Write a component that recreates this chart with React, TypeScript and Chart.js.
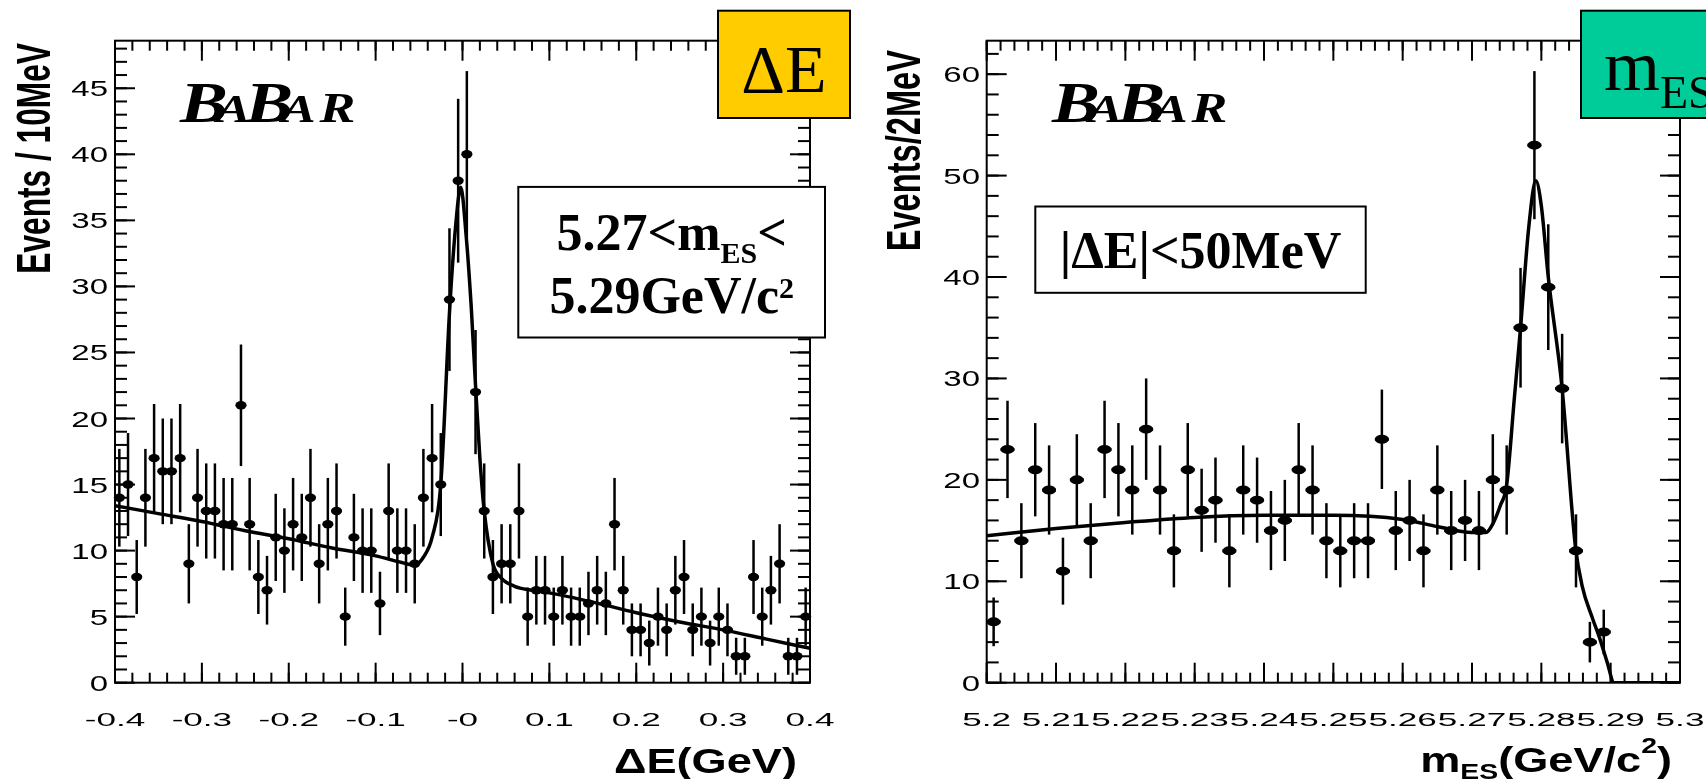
import React, { useEffect, useRef } from "react";
import { Chart, registerables } from "chart.js";
Chart.register(...registerables);

const PAGE_W = 1706;
const PAGE_H = 779;
const SERIF = '"Liberation Serif", "Times New Roman", serif';
const SANS = '"Liberation Sans", Arial, sans-serif';

// ---------------- Left panel: Delta E ----------------
const DE_BIN_CENTERS = [
  -0.395, -0.385, -0.375, -0.365, -0.355, -0.345, -0.335, -0.325, -0.315, -0.305,
  -0.295, -0.285, -0.275, -0.265, -0.255, -0.245, -0.235, -0.225, -0.215, -0.205,
  -0.195, -0.185, -0.175, -0.165, -0.155, -0.145, -0.135, -0.125, -0.115, -0.105,
  -0.095, -0.085, -0.075, -0.065, -0.055, -0.045, -0.035, -0.025, -0.015, -0.005,
  0.005, 0.015, 0.025, 0.035, 0.045, 0.055, 0.065, 0.075, 0.085, 0.095,
  0.105, 0.115, 0.125, 0.135, 0.145, 0.155, 0.165, 0.175, 0.185, 0.195,
  0.205, 0.215, 0.225, 0.235, 0.245, 0.255, 0.265, 0.275, 0.285, 0.295,
  0.305, 0.315, 0.325, 0.335, 0.345, 0.355, 0.365, 0.375, 0.385, 0.395,
];
const DE_COUNTS = [
  14, 15, 8, 14, 17, 16, 16, 17, 9, 14,
  13, 13, 12, 12, 21, 12, 8, 7, 11, 10,
  12, 11, 14, 9, 12, 13, 5, 11, 10, 10,
  6, 13, 10, 10, 9, 14, 17, 15, 29, 38,
  40, 22, 13, 8, 9, 9, 13, 5, 7, 7,
  5, 7, 5, 5, 6, 7, 6, 12, 7, 4,
  4, 3, 5, 4, 7, 8, 4, 5, 3, 5,
  4, 2, 2, 8, 5, 7, 9, 2, 2, 5,
];
const DE_ERRORS = [
  3.7, 3.9, 2.8, 3.7, 4.1, 4.0, 4.0, 4.1, 3.0, 3.7,
  3.6, 3.6, 3.5, 3.5, 4.6, 3.5, 2.8, 2.6, 3.3, 3.2,
  3.5, 3.3, 3.7, 3.0, 3.5, 3.6, 2.2, 3.3, 3.2, 3.2,
  2.4, 3.6, 3.2, 3.2, 3.0, 3.7, 4.1, 3.9, 5.4, 6.2,
  6.3, 4.7, 3.6, 2.8, 3.0, 3.0, 3.6, 2.2, 2.6, 2.6,
  2.2, 2.6, 2.2, 2.2, 2.4, 2.6, 2.4, 3.5, 2.6, 2.0,
  2.0, 1.7, 2.2, 2.0, 2.6, 2.8, 2.0, 2.2, 1.7, 2.2,
  2.0, 1.4, 1.4, 2.8, 2.2, 2.6, 3.0, 1.4, 1.4, 2.2,
];
const DE_FIT_X = [
  -0.4, -0.35, -0.3, -0.25, -0.2, -0.15, -0.1, -0.07, -0.055, -0.045,
  -0.035, -0.025, -0.015, -0.008, -0.002, 0.004, 0.01, 0.015, 0.02, 0.025,
  0.035, 0.045, 0.06, 0.08, 0.1, 0.15, 0.2, 0.25, 0.3, 0.35, 0.4,
];
const DE_FIT_Y = [
  13.4, 12.8, 12.2, 11.5, 10.9, 10.2, 9.6, 9.1, 8.9, 9.5,
  11, 15, 28, 34.5, 37.5, 34, 28.5, 22.5, 17, 13,
  9, 7.9, 7.3, 7.0, 6.8, 6.1, 5.3, 4.6, 4.0, 3.3, 2.6,
];
const DE_X_TICKS = [-0.4, -0.3, -0.2, -0.1, 0, 0.1, 0.2, 0.3, 0.4];
const DE_X_LABELS = ["-0.4", "-0.3", "-0.2", "-0.1", "-0", "0.1", "0.2", "0.3", "0.4"];
const DE_Y_TICKS = [0, 5, 10, 15, 20, 25, 30, 35, 40, 45];
const DE_Y_LABELS = ["0", "5", "10", "15", "20", "25", "30", "35", "40", "45"];

// ---------------- Right panel: m_ES ----------------
const MES_BIN_CENTERS = [
  5.201, 5.203, 5.205, 5.207, 5.209, 5.211, 5.213, 5.215, 5.217, 5.219,
  5.221, 5.223, 5.225, 5.227, 5.229, 5.231, 5.233, 5.235, 5.237, 5.239,
  5.241, 5.243, 5.245, 5.247, 5.249, 5.251, 5.253, 5.255, 5.257, 5.259,
  5.261, 5.263, 5.265, 5.267, 5.269, 5.271, 5.273, 5.275, 5.277, 5.279,
  5.281, 5.283, 5.285, 5.287, 5.289, 5.291, 5.293, 5.295, 5.297, 5.299,
];
const MES_COUNTS: (number | null)[] = [
  6, 23, 14, 21, 19, 11, 20, 14, 23, 21,
  19, 25, 19, 13, 21, 17, 18, 13, 19, 18,
  15, 16, 21, 19, 14, 13, 14, 14, 24, 15,
  16, 13, 19, 15, 16, 15, 20, 19, 35, 53,
  39, 29, 13, 4, 5, null, null, null, null, null,
];
const MES_ERRORS: (number | null)[] = [
  2.4, 4.8, 3.7, 4.6, 4.4, 3.3, 4.5, 3.7, 4.8, 4.6,
  4.4, 5.0, 4.4, 3.6, 4.6, 4.1, 4.2, 3.6, 4.4, 4.2,
  3.9, 4.0, 4.6, 4.4, 3.7, 3.6, 3.7, 3.7, 4.9, 3.9,
  4.0, 3.6, 4.4, 3.9, 4.0, 3.9, 4.5, 4.4, 5.9, 7.3,
  6.2, 5.4, 3.6, 2.0, 2.2, null, null, null, null, null,
];
const MES_FIT_X = [
  5.2, 5.21, 5.22, 5.23, 5.24, 5.25, 5.26, 5.265, 5.27, 5.272,
  5.2731, 5.2741, 5.275, 5.2761, 5.277, 5.2782, 5.2792, 5.28, 5.281, 5.283,
  5.2849, 5.2859, 5.2873, 5.2885, 5.2895, 5.2905, 5.3,
];
const MES_FIT_Y = [
  14.5, 15.2, 15.8, 16.3, 16.5, 16.5, 16.1, 15.4, 14.8, 14.8,
  15.8, 17.5, 19.5, 28, 35, 45, 49.5, 47, 40, 29,
  13.5, 9.5, 6.5, 4.2, 2.0, 0, 0,
];
const MES_X_TICKS = [5.2, 5.21, 5.22, 5.23, 5.24, 5.25, 5.26, 5.27, 5.28, 5.29, 5.3];
const MES_X_LABELS = ["5.2", "5.21", "5.22", "5.23", "5.24", "5.25", "5.26", "5.27", "5.28", "5.29", "5.3"];
const MES_Y_TICKS = [0, 10, 20, 30, 40, 50, 60];
const MES_Y_LABELS = ["0", "10", "20", "30", "40", "50", "60"];

// ---------------- helpers ----------------
type Seg = { t: string; font: string; dy?: number; dx?: number };
type Line = { segs: Seg[]; x: number; y: number; align: "left" | "center" | "right"; sx?: number };
type Box = { x: number; y: number; w: number; h: number; fill: string; lines: Line[] };

function drawRich(ctx: CanvasRenderingContext2D, ln: Line) {
  const sx = ln.sx ?? 1;
  ctx.save();
  ctx.translate(ln.x, ln.y);
  ctx.scale(sx, 1);
  let w = 0;
  for (const s of ln.segs) {
    ctx.font = s.font;
    w += ctx.measureText(s.t).width + (s.dx ?? 0);
  }
  let cx = ln.align === "left" ? 0 : ln.align === "center" ? -w / 2 : -w;
  ctx.textAlign = "left";
  ctx.textBaseline = "alphabetic";
  ctx.fillStyle = "#000";
  for (const s of ln.segs) {
    ctx.font = s.font;
    cx += s.dx ?? 0;
    ctx.fillText(s.t, cx, s.dy ?? 0);
    cx += ctx.measureText(s.t).width;
  }
  ctx.restore();
}

type PanelCfg = {
  area: { left: number; right: number; top: number; bottom: number };
  xMin: number; xMax: number; yMax: number;
  xTicks: number[]; xLabels: string[]; xMinorStep: number;
  yTicks: number[]; yLabels: string[]; yMinorStep: number;
  centers: number[]; counts: (number | null)[]; errors: (number | null)[];
  halfBin: number; markerRx: number; markerRy: number;
  fitX: number[]; fitY: number[];
  yLabelX: number;
  yTitle: { text: string; x: number; y: number; sx: number };
  xTitle: Line;
  logo: { x: number; y: number };
  boxes: Box[];
};

function makePlugin(cfg: PanelCfg) {
  return {
    id: "rootPanel",
    afterDatasetsDraw(chart: any) {
      const ctx: CanvasRenderingContext2D = chart.ctx;
      const xs = chart.scales.x;
      const ys = chart.scales.y;
      const raw = chart.data.datasets[1].data as any[];
      const meta = chart.getDatasetMeta(1);
      ctx.save();
      ctx.strokeStyle = "#000";
      ctx.fillStyle = "#000";
      meta.data.forEach((el: any, i: number) => {
        const p = raw[i];
        if (p == null || p.y == null) return;
        const px = el.x;
        const py = el.y;
        const yTop = ys.getPixelForValue(p.y + p.e);
        const yBot = ys.getPixelForValue(Math.max(0, p.y - p.e));
        ctx.lineWidth = 2.5;
        ctx.beginPath();
        ctx.moveTo(px, yTop);
        ctx.lineTo(px, yBot);
        ctx.stroke();
        const xl = xs.getPixelForValue(p.x - cfg.halfBin);
        const xr = xs.getPixelForValue(p.x + cfg.halfBin);
        ctx.lineWidth = 3;
        ctx.beginPath();
        ctx.moveTo(xl, py);
        ctx.lineTo(xr, py);
        ctx.stroke();
        ctx.beginPath();
        ctx.ellipse(px, py, cfg.markerRx, cfg.markerRy, 0, 0, Math.PI * 2);
        ctx.fill();
      });
      ctx.restore();
    },
    afterDraw(chart: any) {
      const ctx: CanvasRenderingContext2D = chart.ctx;
      const xs = chart.scales.x;
      const ys = chart.scales.y;
      const { left, right, top, bottom } = chart.chartArea;
      ctx.save();
      ctx.strokeStyle = "#000";
      ctx.fillStyle = "#000";
      ctx.lineWidth = 2;
      ctx.strokeRect(left, top, right - left, bottom - top);
      const seg = (x1: number, y1: number, x2: number, y2: number) => {
        ctx.beginPath();
        ctx.moveTo(x1, y1);
        ctx.lineTo(x2, y2);
        ctx.stroke();
      };
      const nx = Math.round((cfg.xMax - cfg.xMin) / cfg.xMinorStep);
      for (let k = 0; k <= nx; k++) {
        const px = xs.getPixelForValue(cfg.xMin + k * cfg.xMinorStep);
        seg(px, bottom, px, bottom - 10);
        seg(px, top, px, top + 10);
      }
      cfg.xTicks.forEach((v) => {
        const px = xs.getPixelForValue(v);
        seg(px, bottom, px, bottom - 20);
        seg(px, top, px, top + 20);
      });
      const ny = Math.floor(cfg.yMax / cfg.yMinorStep + 1e-6);
      for (let k = 0; k <= ny; k++) {
        const py = ys.getPixelForValue(k * cfg.yMinorStep);
        seg(left, py, left + 12, py);
        seg(right, py, right - 12, py);
      }
      cfg.yTicks.forEach((v) => {
        const py = ys.getPixelForValue(v);
        seg(left, py, left + 20, py);
        seg(right, py, right - 20, py);
      });
      cfg.xTicks.forEach((v, i) => {
        drawRich(ctx, {
          segs: [{ t: cfg.xLabels[i], font: `18px ${SANS}` }],
          x: xs.getPixelForValue(v), y: bottom + 43, align: "center", sx: 1.95,
        });
      });
      cfg.yTicks.forEach((v, i) => {
        drawRich(ctx, {
          segs: [{ t: cfg.yLabels[i], font: `22px ${SANS}` }],
          x: cfg.yLabelX, y: ys.getPixelForValue(v) + 8, align: "right", sx: 1.5,
        });
      });
      ctx.save();
      ctx.translate(cfg.yTitle.x, cfg.yTitle.y);
      ctx.rotate(-Math.PI / 2);
      ctx.scale(cfg.yTitle.sx, 1);
      ctx.font = `bold 48px ${SANS}`;
      ctx.textAlign = "right";
      ctx.textBaseline = "alphabetic";
      ctx.fillText(cfg.yTitle.text, 0, 0);
      ctx.restore();
      drawRich(ctx, cfg.xTitle);
      const bi = (s: number) => `italic bold ${s}px ${SERIF}`;
      drawRich(ctx, {
        segs: [
          { t: "B", font: bi(56) },
          { t: "A", font: bi(40), dx: -9 },
          { t: "B", font: bi(56), dx: -4 },
          { t: "A", font: bi(40), dx: -9 },
          { t: "R", font: bi(42), dx: 3 },
        ],
        x: cfg.logo.x, y: cfg.logo.y, align: "left", sx: 1.28,
      });
      cfg.boxes.forEach((b) => {
        ctx.fillStyle = b.fill;
        ctx.fillRect(b.x, b.y, b.w, b.h);
        ctx.strokeStyle = "#000";
        ctx.lineWidth = 2;
        ctx.strokeRect(b.x, b.y, b.w, b.h);
        b.lines.forEach((ln) => drawRich(ctx, ln));
      });
      ctx.restore();
    },
  };
}

const DE_CFG: PanelCfg = {
  area: { left: 115, right: 810, top: 40.7, bottom: 682.7 },
  xMin: -0.4, xMax: 0.4, yMax: 48.6,
  xTicks: DE_X_TICKS, xLabels: DE_X_LABELS, xMinorStep: 0.02,
  yTicks: DE_Y_TICKS, yLabels: DE_Y_LABELS, yMinorStep: 1,
  centers: DE_BIN_CENTERS, counts: DE_COUNTS, errors: DE_ERRORS,
  halfBin: 0.005, markerRx: 5.6, markerRy: 4.2,
  fitX: DE_FIT_X, fitY: DE_FIT_Y,
  yLabelX: 108,
  yTitle: { text: "Events / 10MeV", x: 50, y: 43, sx: 0.66 },
  xTitle: {
    segs: [{ t: "\u0394E(GeV)", font: `bold 35px ${SANS}` }],
    x: 797, y: 773, align: "right", sx: 1.29,
  },
  logo: { x: 180, y: 122 },
  boxes: [
    {
      x: 718, y: 10.7, w: 132, h: 107.3, fill: "#FFCC00",
      lines: [{ segs: [{ t: "\u0394E", font: `68px ${SERIF}` }], x: 784, y: 91.7, align: "center" }],
    },
    {
      x: 518.3, y: 186.9, w: 306.7, h: 150.6, fill: "#FFFFFF",
      lines: [
        {
          segs: [
            { t: "5.27<m", font: `bold 52px ${SERIF}` },
            { t: "ES", font: `bold 30px ${SERIF}`, dy: 13 },
            { t: "<", font: `bold 52px ${SERIF}` },
          ],
          x: 671.7, y: 250, align: "center",
        },
        {
          segs: [
            { t: "5.29GeV/c", font: `bold 52px ${SERIF}` },
            { t: "2", font: `bold 30px ${SERIF}`, dy: -15 },
          ],
          x: 671.7, y: 313, align: "center",
        },
      ],
    },
  ],
};

const MES_CFG: PanelCfg = {
  area: { left: 986.7, right: 1680, top: 40.7, bottom: 682.7 },
  xMin: 5.2, xMax: 5.3, yMax: 63.3,
  xTicks: MES_X_TICKS, xLabels: MES_X_LABELS, xMinorStep: 0.002,
  yTicks: MES_Y_TICKS, yLabels: MES_Y_LABELS, yMinorStep: 2,
  centers: MES_BIN_CENTERS, counts: MES_COUNTS, errors: MES_ERRORS,
  halfBin: 0.001, markerRx: 7, markerRy: 4.5,
  fitX: MES_FIT_X, fitY: MES_FIT_Y,
  yLabelX: 980,
  yTitle: { text: "Events/2MeV", x: 920, y: 50, sx: 0.68 },
  xTitle: {
    segs: [
      { t: "m", font: `bold 35px ${SANS}` },
      { t: "ES", font: `bold 22px ${SANS}`, dy: 7 },
      { t: "(GeV/c", font: `bold 35px ${SANS}` },
      { t: "2", font: `bold 22px ${SANS}`, dy: -19 },
      { t: ")", font: `bold 35px ${SANS}` },
    ],
    x: 1672, y: 772, align: "right", sx: 1.29,
  },
  logo: { x: 1052, y: 122 },
  boxes: [
    {
      x: 1035.3, y: 206.5, w: 330.4, h: 86.3, fill: "#FFFFFF",
      lines: [{ segs: [{ t: "|\u0394E|<50MeV", font: `bold 52px ${SERIF}` }], x: 1200.5, y: 268, align: "center" }],
    },
    {
      x: 1581, y: 10.7, w: 200, h: 107.3, fill: "#00CC99",
      lines: [
        {
          segs: [
            { t: "m", font: `72px ${SERIF}` },
            { t: "ES", font: `46px ${SERIF}`, dy: 18 },
          ],
          x: 1604, y: 90, align: "left",
        },
      ],
    },
  ],
};

function PanelCanvas({ cfg }: { cfg: PanelCfg }) {
  const ref = useRef<HTMLCanvasElement | null>(null);
  useEffect(() => {
    if (!ref.current) return;
    const points = cfg.centers.map((x, i) => ({ x, y: cfg.counts[i], e: cfg.errors[i] }));
    const fit = cfg.fitX.map((x, i) => ({ x, y: cfg.fitY[i] }));
    const chart = new Chart(ref.current, {
      type: "scatter",
      data: {
        datasets: [
          {
            type: "line",
            data: fit,
            borderColor: "#000",
            borderWidth: 3.5,
            pointRadius: 0,
            fill: false,
            cubicInterpolationMode: "monotone",
          } as any,
          {
            type: "scatter",
            data: points as any,
            pointRadius: 0,
            pointHoverRadius: 0,
            backgroundColor: "#000",
            borderColor: "#000",
          } as any,
        ],
      },
      options: {
        responsive: false,
        animation: false,
        devicePixelRatio: 1,
        events: [],
        layout: {
          padding: {
            left: cfg.area.left,
            top: cfg.area.top,
            right: PAGE_W - cfg.area.right,
            bottom: PAGE_H - cfg.area.bottom,
          },
        },
        scales: {
          x: { type: "linear", min: cfg.xMin, max: cfg.xMax, display: false },
          y: { type: "linear", min: 0, max: cfg.yMax, display: false },
        },
        plugins: { legend: { display: false }, tooltip: { enabled: false } },
      },
      plugins: [makePlugin(cfg)],
    });
    return () => chart.destroy();
  }, [cfg]);
  return (
    <canvas
      ref={ref}
      width={PAGE_W}
      height={PAGE_H}
      style={{ position: "absolute", left: 0, top: 0, width: PAGE_W, height: PAGE_H }}
    />
  );
}

export default function App() {
  return (
    <div
      style={{
        position: "absolute",
        left: 0,
        top: 0,
        width: PAGE_W,
        height: PAGE_H,
        background: "#ffffff",
        overflow: "hidden",
      }}
    >
      <PanelCanvas cfg={DE_CFG} />
      <PanelCanvas cfg={MES_CFG} />
    </div>
  );
}
